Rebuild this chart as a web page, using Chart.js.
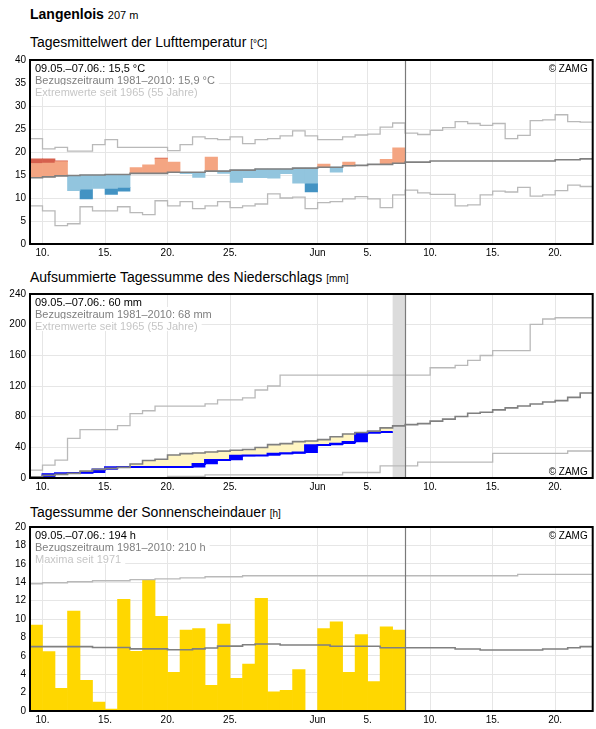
<!DOCTYPE html>
<html><head><meta charset="utf-8">
<script src="https://cdn.jsdelivr.net/npm/chart.js@4/dist/chart.umd.min.js"></script>
<style>
body{margin:0;background:#fff;width:596px;height:729px;overflow:hidden;position:relative;font-family:"Liberation Sans",Arial,sans-serif;}
.t{position:absolute;left:30px;white-space:nowrap;color:#000;line-height:1;}
canvas{position:absolute;left:0;}
</style></head><body>
<div class="t" style="top:7px;font-size:14px;font-weight:bold">Langenlois <span style="font-size:11px;font-weight:normal">207 m</span></div>
<div class="t" style="top:35px;font-size:14px">Tagesmittelwert der Lufttemperatur <span style="font-size:10px">[°C]</span></div>
<div class="t" style="top:270px;font-size:14px">Aufsummierte Tagessumme des Niederschlags <span style="font-size:10px">[mm]</span></div>
<div class="t" style="top:505px;font-size:14px">Tagessumme der Sonnenscheindauer <span style="font-size:10px">[h]</span></div>
<canvas id="c1" width="596" height="214" style="top:50px"></canvas>
<canvas id="c2" width="596" height="214" style="top:284px"></canvas>
<canvas id="c3" width="596" height="212" style="top:517px"></canvas>
<script>
// ---- axis ticks (days since 09.05.) ----
const tickDays   = [1, 6, 11, 16, 23, 27, 32, 37, 42];
const tickLabels = ['10.', '15.', '20.', '25.', 'Jun', '5.', '10.', '15.', '20.'];
const todayDay = 30;

// ---- temperature ----
const tempClim = [14.4,14.6,14.8,14.9,15.0,15.0,15.1,15.1,15.35,15.35,15.35,15.6,15.6,15.6,15.85,15.85,16.05,16.05,16.3,16.3,16.3,16.5,16.5,16.7,16.7,17.0,17.1,17.3,17.3,17.55,
  17.8,17.8,18.05,18.05,18.05,18.05,18.05,18.05,18.05,18.05,18.05,18.05,18.3,18.3,18.5];
const tempMax = [22.9,20.7,21.0,20.2,20.2,21.6,22.7,21.0,21.0,21.0,21.0,20.3,21.6,23.3,22.9,22.7,23.3,21.8,22.7,22.9,23.5,24.6,23.5,22.7,22.7,23.3,23.7,23.9,25.4,26.3,
  24.1,23.8,24.7,25.3,26.6,26.2,25.8,26.2,22.9,23.6,26.8,27.0,28.1,26.6,26.5];
const tempMin = [8.3,7.2,4.0,4.4,8.1,7.2,7.2,8.1,6.8,6.4,9.4,8.3,9.2,7.7,8.3,9.2,7.9,8.3,8.7,10.9,10.0,10.2,7.7,9.0,9.2,9.8,10.3,9.8,7.9,10.7,
  11.7,11.1,10.8,10.8,8.3,8.5,10.7,11.5,11.3,12.3,10.4,10.7,11.6,12.8,12.5];
const tempVal = [18.5,18.5,18.1,11.6,9.8,12.1,10.8,11.5,16.6,17.2,18.7,17.8,15.3,14.5,18.9,15.35,13.4,14.4,14.4,14.3,15.3,13.2,11.3,17.4,15.6,17.8,17.1,17.3,18.4,20.9];
const tempExtremeFrom = [17.5,17.6,17.9,null,11.9,null,12.1,12.3,null,null,18.5,null,null,null,null,null,null,null,null,null,null,null,13.2,null,null,null,null,null,null,null];

// ---- precipitation (accumulated) ----
const precClim = [1.7,3.4,4.7,6.0,9.0,11.2,12.5,13.8,18.2,22.8,24.5,30.0,31.8,32.7,34.0,35.0,36.2,37.1,39.7,43.5,44.8,47.4,48.2,50.0,53.8,57.3,59.4,61.1,65.4,68.0,
  69.6,70.9,74.2,76.8,80.3,84.5,85.8,88.9,91.5,94.0,96.6,99.2,100.9,105.2,110.8];
const precMax = [10.3,16.8,23.2,51.6,63.2,63.2,63.2,68.4,83.9,87.7,93.8,93.8,93.8,93.8,96.8,101.9,101.9,104.5,114.8,120.0,134.2,134.2,134.2,134.2,134.2,134.2,134.2,134.2,134.2,134.2,
  134.2,134.2,143.8,143.8,146.9,153.3,159.8,166.2,166.2,166.2,200.5,207.4,209,209,209];
const precMin = [0,0,0,0,0,0,0,0,0,0,0,2.1,2.1,2.1,4.0,4.0,4.0,4.0,4.0,4.0,4.0,4.0,4.0,4.0,4.0,7.2,7.2,7.2,15.8,15.8,
  15.8,20.6,20.6,20.6,20.6,20.6,20.6,32.2,32.2,32.2,32.2,32.2,32.2,35.2,35.2];
const precAcc = [0,5.0,6.2,6.5,7.0,11.2,14.0,14.2,14.2,14.2,14.2,14.2,14.2,18.4,23.5,23.5,28.9,29.4,29.4,31.5,32.2,33.2,42.7,43.1,44.8,47.0,58.5,59.5,60.0];
const precExtremeFrom = [null,null,null,null,null,null,null,null,null,null,null,16.3,17.2,null,null,null,null,null,null,null,null,null,null,null,null,null,null,null,null];
const precPendingDay = 29;

// ---- sunshine ----
const sunVal = [9.35,6.45,2.47,10.86,3.33,0.97,0.2,12.15,6.49,14.2,10.3,4.2,8.8,8.96,2.8,9.46,3.55,5.1,12.26,2.08,2.26,4.5,0,8.96,9.68,4.19,8.3,3.2,9.14,8.8];
const sunClim = [7.0,7.0,7.0,7.0,7.0,6.9,6.9,6.9,6.75,6.75,6.75,6.65,6.65,6.75,6.85,7.05,7.05,7.2,7.28,7.28,7.17,7.17,7.17,7.17,7.03,7.03,7.03,7.03,6.88,6.88,
  6.88,6.88,6.88,6.88,6.74,6.74,6.63,6.63,6.63,6.63,6.63,6.74,6.74,6.88,7.0];
const sunMax = [13.83,13.94,13.94,14.05,14.05,14.16,14.16,14.16,14.27,14.27,14.37,14.37,14.48,14.48,14.59,14.59,14.59,14.7,14.7,14.7,14.7,14.7,14.7,14.7,14.7,14.7,14.7,14.7,14.7,14.7,
  14.7,14.7,14.7,14.7,14.7,14.7,14.7,14.7,14.7,14.84,14.84,14.84,14.84,14.84,14.84];

const FONT = '"Liberation Sans", Arial, sans-serif';
Chart.defaults.font.family = FONT;
Chart.defaults.color = '#000';
const C_CLIM = '#808080', C_EXT = '#b9b9b9', GRID = '#e6e6e6';

function step(arr){ const d = arr.map((v,i)=>({x:i,y:v})); d.push({x:arr.length,y:arr[arr.length-1]}); return d; }
function line(arr,color,w){ return {type:'line',data:step(arr),borderColor:color,borderWidth:w,stepped:true,pointRadius:0,fill:false,order:0,clip:0}; }
function bars(data,colors,order){ return {type:'bar',data:data,backgroundColor:colors,borderWidth:0,barPercentage:1,categoryPercentage:1,grouped:false,order:order}; }

function panelPlugin(cfg){
  return {
    id:'panel',
    beforeDatasetsDraw(chart){
      const {ctx,chartArea:a,scales:{x}} = chart;
      if(cfg.shade!=null){
        ctx.save(); ctx.fillStyle='#dcdcdc';
        const x0=x.getPixelForValue(cfg.shade), x1=x.getPixelForValue(cfg.shade+1);
        ctx.fillRect(x0,a.top,x1-x0,a.bottom-a.top); ctx.restore();
      }
    },
    afterDatasetsDraw(chart){
      const {ctx,chartArea:a,scales:{x}} = chart;
      ctx.save();
      // today line
      const xt = Math.round(x.getPixelForValue(todayDay))+0.5;
      ctx.strokeStyle='#7a7a7a'; ctx.lineWidth=1.2;
      ctx.beginPath(); ctx.moveTo(xt,a.top); ctx.lineTo(xt,a.bottom); ctx.stroke();
      // legend texts with white backgrounds
      ctx.font='11px '+FONT; ctx.textBaseline='alphabetic';
      const cols=['#000','#7f7f7f','#c6c6c6'];
      cfg.legend.forEach((t,i)=>{
        const w=ctx.measureText(t).width;
        ctx.fillStyle='#fff'; ctx.fillRect(a.left+1,a.top+1+i*12,w+8,12);
        ctx.fillStyle=cols[i]; ctx.fillText(t,a.left+5,a.top+12.3+i*12);
      });
      // copyright
      ctx.font='10px '+FONT; ctx.fillStyle='#000'; ctx.textAlign='right';
      ctx.fillText('© ZAMG',a.right-5, cfg.zamgBottom ? a.bottom-3 : a.top+11.5);
      // border
      ctx.strokeStyle='#000'; ctx.lineWidth=2;
      ctx.strokeRect(a.left,a.top,a.right-a.left,a.bottom-a.top);
      ctx.restore();
    }
  };
}

function makeChart(id,datasets,ymax,ystep,xh,cfg){
  new Chart(document.getElementById(id),{
    type:'bar',
    data:{datasets:datasets},
    options:{
      responsive:false,animation:false,
      layout:{padding:{top:8,right:3.3,left:0,bottom:0}},
      plugins:{legend:{display:false},tooltip:{enabled:false}},
      scales:{
        x:{type:'linear',min:0,max:45,offset:false,
           afterBuildTicks:s=>{s.ticks=tickDays.map(v=>({value:v}));},
           afterFit:s=>{s.height=xh;},
           ticks:{autoSkip:false,maxRotation:0,padding:3,font:{size:10},color:'#000',
                  callback:(v)=>{const k=tickDays.indexOf(v);return k>=0?tickLabels[k]:'';}},
           grid:{color:GRID,lineWidth:1,drawTicks:false,offset:false},border:{display:false}},
        y:{min:0,max:ymax,
           afterFit:s=>{s.width=30;},
           ticks:{stepSize:ystep,padding:4,font:{size:10},color:'#000'},
           grid:{color:GRID,lineWidth:1,drawTicks:false},border:{display:false}}
      }
    },
    plugins:[panelPlugin(cfg)]
  });
}

// ---- panel 1: temperature ----
const T_WARM='#f4a582', T_WARM2='#d6604d', T_COLD='#92c5de', T_COLD2='#4393c3';
const tLight=[], tLightC=[], tDark=[], tDarkC=[];
tempVal.forEach((v,i)=>{
  const c=tempClim[i], e=tempExtremeFrom[i];
  tLight.push({x:i+0.5,y:[c, e!=null?e:v]}); tLightC.push(v>=c?T_WARM:T_COLD);
  if(e!=null){ tDark.push({x:i+0.5,y:[e,v]}); tDarkC.push(v>=c?T_WARM2:T_COLD2); }
});
makeChart('c1',[
  line(tempClim,C_CLIM,1.6), line(tempMax,C_EXT,1.3), line(tempMin,C_EXT,1.3),
  bars(tLight,tLightC,2), bars(tDark,tDarkC,2)
],40,5,20,{legend:['09.05.–07.06.: 15,5 °C','Bezugszeitraum 1981–2010: 15,9 °C','Extremwerte seit 1965 (55 Jahre)']});

// ---- panel 2: precipitation ----
const pDef=[], pExt=[], pRain=[];
precAcc.forEach((v,i)=>{
  const c=precClim[i];
  if(c>v) pDef.push({x:i+0.5,y:[v,c]});
  if(precExtremeFrom[i]!=null) pExt.push({x:i+0.5,y:[v,precExtremeFrom[i]]});
  const prev=i>0?precAcc[i-1]:0;
  if(v>prev) pRain.push({x:i+0.5,y:[prev,v]});
});
makeChart('c2',[
  line(precClim,C_CLIM,1.6), line(precMax,C_EXT,1.3), line(precMin,C_EXT,1.3),
  {type:'line',data:step(precAcc),borderColor:'#0000ff',borderWidth:2,stepped:true,pointRadius:0,fill:false,order:1},
  bars(pDef,'#fff5c2',3), bars(pExt,'#fdc05c',3), bars(pRain,'#0000ff',2)
],240,40,20,{legend:['09.05.–07.06.: 60 mm','Bezugszeitraum 1981–2010: 68 mm','Extremwerte seit 1965 (55 Jahre)'],zamgBottom:true,shade:precPendingDay});

// ---- panel 3: sunshine ----
makeChart('c3',[
  line(sunClim,C_CLIM,1.6), line(sunMax,C_EXT,1.3),
  bars(sunVal.map((v,i)=>({x:i+0.5,y:v})),'#ffd700',2)
],20,2,18,{legend:['09.05.–07.06.: 194 h','Bezugszeitraum 1981–2010: 210 h','Maxima seit 1971']});
</script>
</body></html>
